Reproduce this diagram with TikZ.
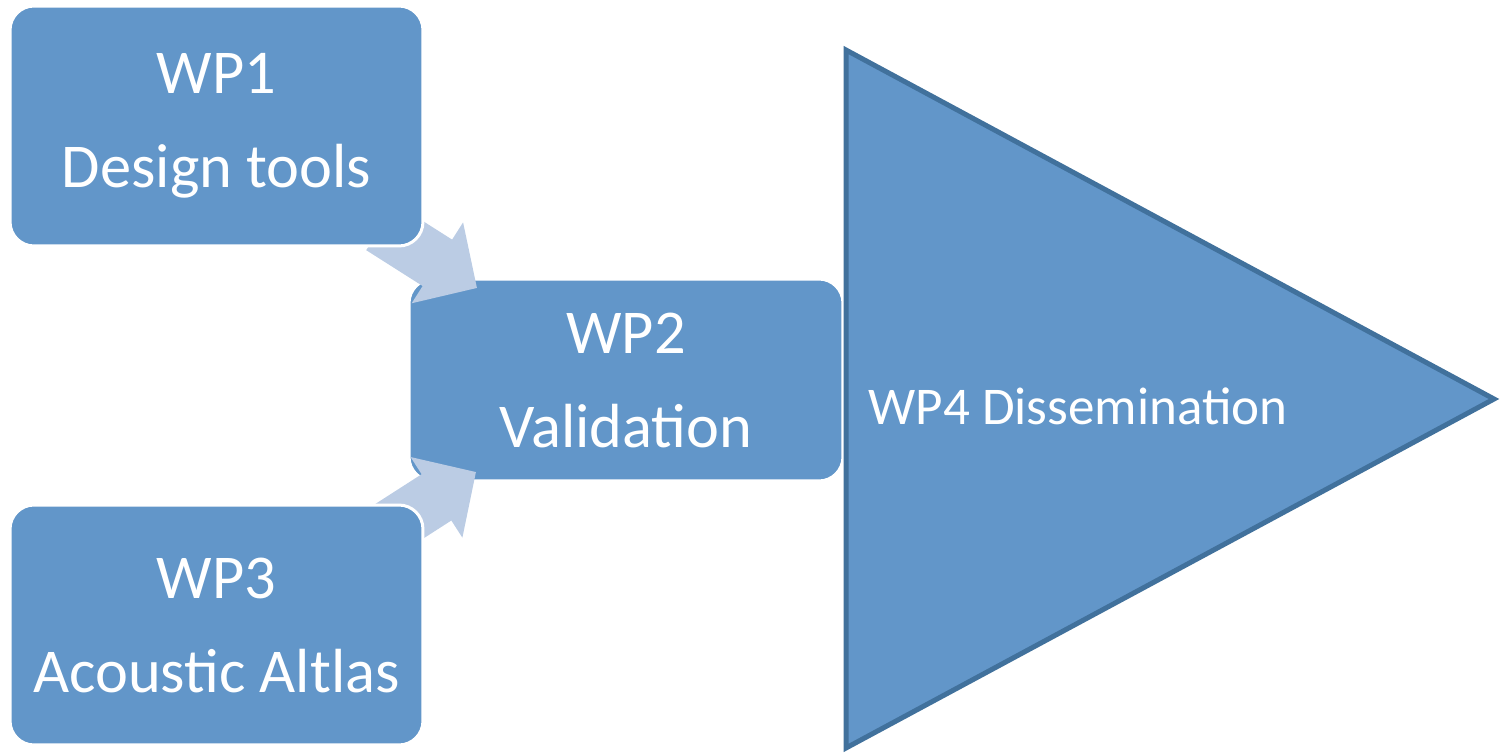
\documentclass[tikz,border=0pt]{standalone}
\usepackage{fontspec}
\setmainfont{Carlito}
\usepackage{tikz}
\usetikzlibrary{arrows.meta,calc}
\definecolor{wpblue}{RGB}{98,150,201}
\definecolor{wpedge}{RGB}{65,113,156}
\definecolor{wplight}{RGB}{187,204,228}
\pgfdeclarelayer{front}
\pgfsetlayers{main,front}

\tikzset{
    wpbox/.style={rectangle, rounded corners=0.48cm, fill=wpblue, draw=white, line width=0.06cm,
        text=white, align=center, outer sep=0pt, inner sep=0pt,
        font=\fontsize{35.5}{53.5}\selectfont},
    flow/.style={draw=wplight, line width=1.1cm, -{Triangle[length=0.94cm, width=1.86cm, fill=wplight]}}
}

\begin{document}
\begin{tikzpicture}[x=0.02cm, y=-0.02cm]
    \useasboundingbox (0,0) rectangle (1502,753);

    % Boites WP1 et WP3 au premier plan
    \begin{pgfonlayer}{front}
        \node[wpbox, minimum width=8.26cm, minimum height=4.8cm] (wp1) at (216.5,126) {WP1\\Design tools};
        \node[wpbox, minimum width=8.26cm, minimum height=4.8cm] (wp3) at (216.5,625) {WP3\\Acoustic Altlas};
    \end{pgfonlayer}

    % Boite centrale
    \node[wpbox, minimum width=8.68cm, minimum height=4.04cm] (wp2) at (626,380) {WP2\\Validation};

    % Fleches vers WP2
    \draw[flow] ($(wp1.south east)+(-42,-19)$) -- ($(wp2.north west)+(68,9)$);
    \draw[flow] ($(wp3.north east)+(-42,28)$) -- ($(wp2.south west)+(67,-9)$);

    % Triangle de dissemination
    \filldraw[fill=wpblue, draw=wpedge, line width=0.1cm] (846,50) -- (846,748) -- (1494,399) -- cycle;
    \node[text=white, font=\fontsize{30.2}{36}\selectfont] (wp4) at (1078,406) {WP4 Dissemination};
\end{tikzpicture}
\end{document}
